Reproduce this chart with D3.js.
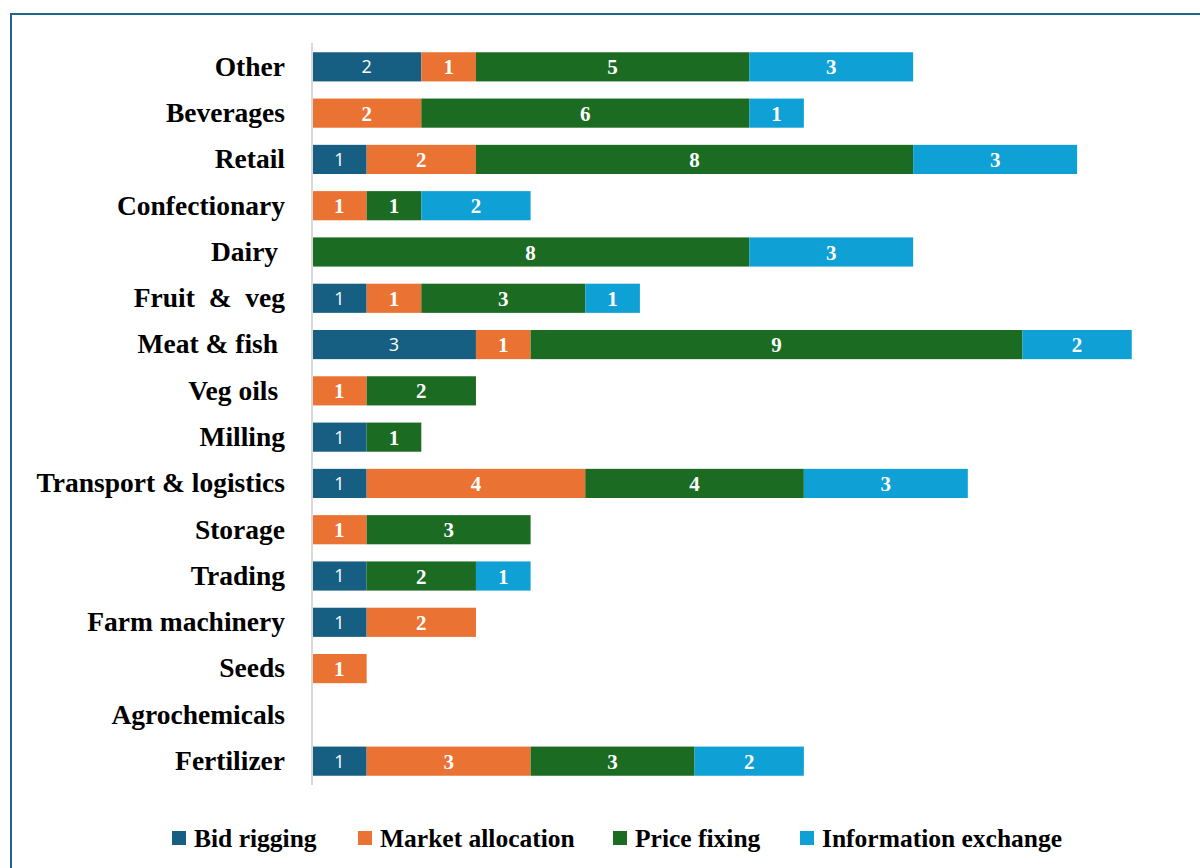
<!DOCTYPE html>
<html>
<head>
<meta charset="utf-8">
<script src="https://cdn.jsdelivr.net/npm/d3@7"></script>
<style>
  html, body { margin: 0; padding: 0; background: #fff; }
  svg { display: block; }
</style>
</head>
<body>
<svg id="chart" width="1200" height="868"></svg>
<script>
// Sectors, listed top to bottom
const sectors = ["Other", "Beverages", "Retail", "Confectionary", "Dairy ", "Fruit  &  veg",
  "Meat & fish ", "Veg oils ", "Milling", "Transport & logistics", "Storage", "Trading",
  "Farm machinery", "Seeds", "Agrochemicals", "Fertilizer"];

// Number of cases per conduct type, aligned with sectors
const bidRigging        = [2, 0, 1, 0, 0, 1, 3, 0, 1, 1, 0, 1, 1, 0, 0, 1];
const marketAllocation  = [1, 2, 2, 1, 0, 1, 1, 1, 0, 4, 1, 0, 2, 1, 0, 3];
const priceFixing       = [5, 6, 8, 1, 8, 3, 9, 2, 1, 4, 3, 2, 0, 0, 0, 3];
const infoExchange      = [3, 1, 3, 2, 3, 1, 2, 0, 0, 3, 0, 1, 0, 0, 0, 2];

const seriesNames = ["Bid rigging", "Market allocation", "Price fixing", "Information exchange"];
const seriesColors = ["#175f82", "#ea7232", "#1b6b22", "#0fa0d5"];
const xMax = 15;

const svg = d3.select("#chart");
const W = 1200, H = 868;

// outer frame
svg.append("rect")
  .attr("x", 11).attr("y", 14)
  .attr("width", W + 20).attr("height", H + 20)
  .attr("fill", "none").attr("stroke", "#1f6590").attr("stroke-width", 2);

const plotLeft = 312, plotRight = 312 + 54.65 * xMax;
const plotTop = 43, plotBottom = 785;

const keys = ["bid", "market", "price", "info"];
const rows = sectors.map((s, i) => ({
  sector: s,
  bid: bidRigging[i], market: marketAllocation[i], price: priceFixing[i], info: infoExchange[i]
}));

const x = d3.scaleLinear().domain([0, xMax]).range([plotLeft, plotRight]);
const y = d3.scaleBand().domain(sectors).range([plotTop, plotBottom]).paddingInner(0.37).paddingOuter(0.2);
const color = d3.scaleOrdinal().domain(keys).range(seriesColors);

const stacked = d3.stack().keys(keys)(rows);

const serif = "'Palatino Linotype', 'Book Antiqua', 'Liberation Serif', serif";

const layers = svg.append("g").selectAll("g")
  .data(stacked).join("g")
  .attr("fill", d => color(d.key));

layers.selectAll("rect")
  .data(d => d.filter(p => p[1] - p[0] > 0))
  .join("rect")
  .attr("x", d => x(d[0]))
  .attr("y", d => y(d.data.sector))
  .attr("width", d => x(d[1]) - x(d[0]))
  .attr("height", y.bandwidth());

// value labels inside segments
const labels = svg.append("g");
stacked.forEach(layer => {
  const isBid = layer.key === "bid";
  labels.append("g").selectAll("text")
    .data(layer.filter(p => p[1] - p[0] > 0))
    .join("text")
    .attr("x", d => (x(d[0]) + x(d[1])) / 2)
    .attr("y", d => y(d.data.sector) + y.bandwidth() / 2)
    .attr("dy", "0.36em")
    .attr("text-anchor", "middle")
    .attr("fill", "#fff")
    .attr("font-family", isBid ? "'Open Sans', 'Noto Sans', sans-serif" : serif)
    .attr("font-weight", isBid ? "normal" : "bold")
    .attr("font-size", isBid ? 18 : 21)
    .text(d => d[1] - d[0]);
});

// category axis
const yAxis = svg.append("g")
  .attr("transform", `translate(${plotLeft},0)`)
  .call(d3.axisLeft(y).tickSize(0).tickPadding(27));
yAxis.select(".domain").attr("stroke", "#d9d9d9").attr("stroke-width", 2)
  .attr("d", `M0,${plotTop}V${plotBottom}`);
yAxis.selectAll("text")
  .attr("font-family", serif)
  .attr("font-weight", "bold")
  .attr("font-size", 27.5)
  .attr("fill", "#000")
  .style("white-space", "pre");

// legend
const legendPos = [172, 358, 613, 800];
const legend = svg.append("g").attr("transform", "translate(0,838)");
seriesNames.forEach((name, i) => {
  const g = legend.append("g").attr("transform", `translate(${legendPos[i]},0)`);
  g.append("rect").attr("x", 0).attr("y", -7).attr("width", 14).attr("height", 14)
    .attr("fill", seriesColors[i]);
  g.append("text").attr("x", 22).attr("dy", "0.35em")
    .attr("font-family", serif).attr("font-weight", "bold").attr("font-size", 25.5)
    .attr("fill", "#000").text(name);
});
</script>
</body>
</html>
